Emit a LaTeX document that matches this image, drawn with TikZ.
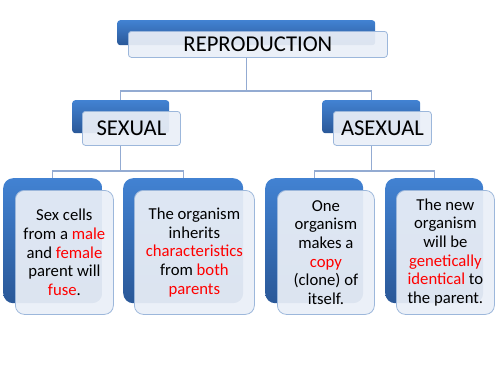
\documentclass[tikz,border=0pt]{standalone}
\usepackage{fontspec}
\setmainfont{Carlito}
\definecolor{bluetop}{HTML}{4282D2}
\definecolor{bluebot}{HTML}{2A5898}
\definecolor{frontfill}{HTML}{EAEFF7}
\definecolor{frontline}{HTML}{9CB7DB}
\definecolor{conn}{HTML}{93ABD2}
\definecolor{hl}{HTML}{FF0000}
\tikzset{
  backbox/.style={rectangle, top color=bluetop, bottom color=bluebot, draw=none, anchor=north west, inner sep=0pt},
  frontbox/.style={rectangle, fill=frontfill, fill opacity=0.93, text opacity=1, draw=frontline, line width=0.8pt, anchor=north west, inner sep=0pt, align=center},
  connector/.style={draw=conn, line width=1.1pt},
  titletext/.style={font=\fontsize{22.6}{26}\selectfont},
  bodytext/.style={font=\fontsize{16.7}{18.6}\selectfont},
}
\newcommand{\hlt}[1]{\textcolor{hl}{#1}}
\begin{document}
\begin{tikzpicture}[x=1pt,y=-1pt]
\useasboundingbox (0,0) rectangle (500,375);
% back boxes
\node[backbox, rounded corners=3pt, minimum width=258pt, minimum height=25pt] (topB) at (117,20) {};
\node[backbox, rounded corners=3pt, minimum width=97pt, minimum height=33pt] (sexB) at (72,100) {};
\node[backbox, rounded corners=3pt, minimum width=98pt, minimum height=33pt] (asexB) at (322,100) {};
\node[backbox, rounded corners=10pt, minimum width=99pt, minimum height=125pt] (b1B) at (3,178) {};
\node[backbox, rounded corners=10pt, minimum width=120pt, minimum height=125pt] (b2B) at (123,178) {};
\node[backbox, rounded corners=10pt, minimum width=98pt, minimum height=125pt] (b3B) at (265,178) {};
\node[backbox, rounded corners=10pt, minimum width=98pt, minimum height=125pt] (b4B) at (385,178) {};
% front boxes
\node[frontbox, rounded corners=3pt, minimum width=259pt, minimum height=26pt, titletext] (topF) at (128,31) {REPRODUCTION};
\node[frontbox, rounded corners=3pt, minimum width=98pt, minimum height=34pt, titletext] (sexF) at (82,111) {SEXUAL};
\node[frontbox, rounded corners=3pt, minimum width=98pt, minimum height=34pt, titletext] (asexF) at (333,111) {ASEXUAL};
\node[frontbox, rounded corners=9pt, minimum width=98pt, minimum height=124pt, bodytext] (b1F) at (15,190)
  {Sex cells\\from a \hlt{male}\\and \hlt{female}\\parent will\\\hlt{fuse}.};
\node[frontbox, rounded corners=9pt, minimum width=120pt, minimum height=124pt, bodytext] (b2F) at (134,190)
  {The organism\\inherits\\\hlt{characteristics}\\from \hlt{both}\\\hlt{parents}};
\node[frontbox, rounded corners=9pt, minimum width=97pt, minimum height=124pt, bodytext] (b3F) at (277,190)
  {One\\organism\\makes a\\\hlt{copy}\\(clone) of\\itself.};
\node[frontbox, rounded corners=9pt, minimum width=98pt, minimum height=124pt, bodytext] (b4F) at (396,190)
  {The new\\organism\\will be\\\hlt{genetically}\\\hlt{identical} to\\the parent.};
% connectors
\coordinate (j0) at (topB |- 0,91);
\coordinate (j1) at (sexB |- 0,171);
\coordinate (j2) at (asexB |- 0,171);
\draw[connector] (topB |- topF.south) -- (j0) -| (sexB.north);
\draw[connector] (j0) -| (asexB.north);
\draw[connector] (sexB |- sexF.south) -- (j1) -| (b1B.north);
\draw[connector] (j1) -| (b2B.north);
\draw[connector] (asexB |- asexF.south) -- (j2) -| (b3B.north);
\draw[connector] (j2) -| (b4B.north);
\end{tikzpicture}
\end{document}
